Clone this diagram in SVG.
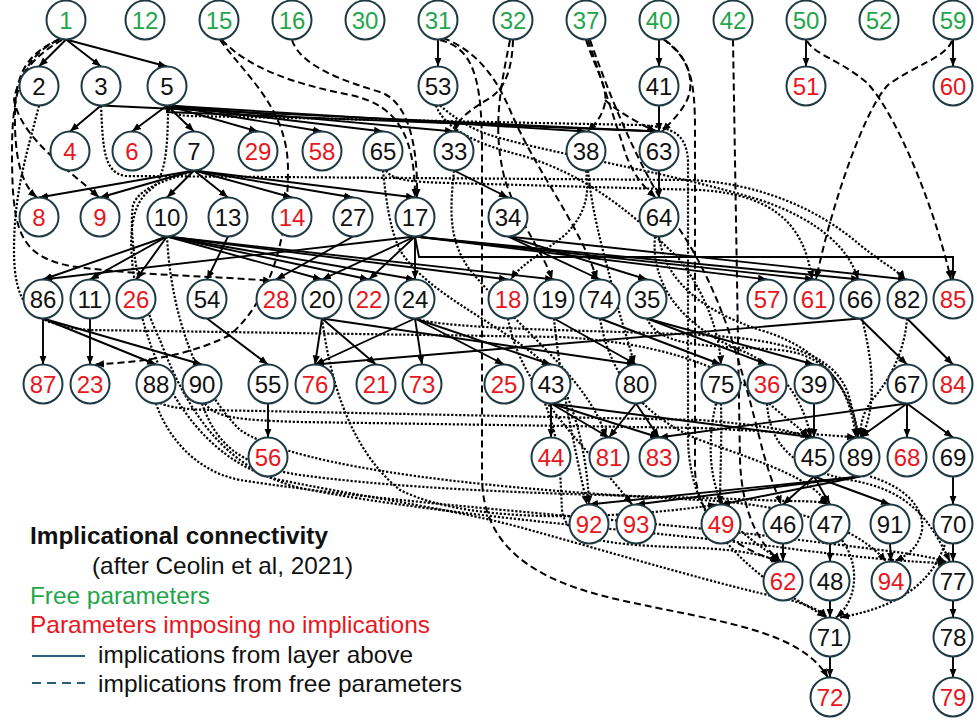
<svg xmlns="http://www.w3.org/2000/svg" width="977" height="721" viewBox="0 0 977 721">
<style>
.s{fill:none;stroke:#000;stroke-width:1.9;marker-end:url(#a)}
.d{fill:none;stroke:#000;stroke-width:2;stroke-dasharray:7 4;marker-end:url(#a)}
.o{fill:none;stroke:#000;stroke-width:2.2;stroke-dasharray:2.2 1.8;marker-end:url(#a)}
circle{fill:#fff;stroke:#1e3a42;stroke-width:2}
text{font-family:"Liberation Sans",Arial,sans-serif}
.n text{font-size:24px;text-anchor:middle}
.g{fill:#1fa64a}
.r{fill:#e8161d}
.k{fill:#111}
</style>
<defs>
<marker id="a" viewBox="0 0 10 10" refX="10" refY="5" markerWidth="9" markerHeight="9" markerUnits="userSpaceOnUse" orient="auto"><path d="M0,1 L10,5 L0,9 z" fill="#000"/></marker>
</defs>
<rect width="977" height="721" fill="#fff"/>
<g id="connectors">
<g id="dotted">
<path class="o" d="M39,105.5 C28,150 14,190 14,250 C14,305 30,325 90,330 L560,337 C650,342 720,362 765,400 C790,422 803,430 808,437.5"/>
<path class="o" d="M101,105.5 C103,150 104,172 125,176 L690,180 C760,183 820,210 860,245 C885,265 900,272 905,279.5"/>
<path class="o" d="M167,105.5 C168,112 175,115 190,116 L640,125 C675,127 686,135 688,160 L688,440 C690,520 740,560 780,590 C805,605 818,612 826,617.5"/>
<path class="o" d="M194,170.5 C170,180 140,186 133,205 C128,240 140,300 160,340 C190,420 230,470 300,488 C450,518 700,535 800,550 C880,560 930,563 947,563"/>
<path class="o" d="M168,105.5 C168,150 165,180 150,190 C130,205 126,240 138,300 C155,380 200,460 280,480 C380,500 460,510 530,530 C620,555 720,585 790,600 C812,606 822,612 827,617.5"/>
<path class="o" d="M383,170.5 C386,200 390,230 400,250 C430,300 520,330 560,380 C580,420 588,470 589,504.5"/>
<path class="o" d="M454,170.5 C450,210 448,240 470,270 C520,330 590,380 606,437.5"/>
<path class="o" d="M586,170.5 C590,195 585,215 565,235 C540,255 520,265 511,279.5"/>
<path class="o" d="M440,105.5 C455,118 470,130 500,138 C560,155 680,175 760,200 C820,220 850,250 858,279.5"/>
<path class="o" d="M156,403.5 C165,430 190,470 240,480 C400,505 650,520 800,540 C880,550 930,555 946,562"/>
<path class="o" d="M202,403.5 C215,440 235,465 300,475 C450,495 650,495 760,500 C800,502 820,500 828,504.5"/>
<path class="o" d="M160,403 C175,410 200,410 260,411 L700,420 C760,425 790,430 810,437.5"/>
<path class="o" d="M205,403.5 C215,418 240,420 300,422 L700,428 C780,432 830,435 856,437.5"/>
<path class="o" d="M167,236.5 C170,300 190,380 240,430 C300,470 500,490 700,500 C800,505 860,530 886,561.5"/>
<path class="o" d="M322,318.5 C330,380 350,450 400,490 C480,530 650,515 717,504.5"/>
<path class="o" d="M659,236.5 C665,280 700,310 760,330 C830,350 855,400 858,437.5"/>
<path class="o" d="M655,236.5 C650,290 690,330 740,350 C790,370 805,410 811,437.5"/>
<path class="o" d="M554,318.5 C560,380 575,450 587,504.5"/>
<path class="o" d="M600,318.5 C610,380 650,420 700,440 C770,465 815,480 827,504.5"/>
<path class="o" d="M647,318.5 C660,350 720,345 780,350 C830,355 850,390 856,437.5"/>
<path class="o" d="M508,318.5 C520,390 590,450 632,504.5"/>
<path class="o" d="M721,403.5 C722,440 720,480 720,504.5"/>
<path class="o" d="M716,403.5 C705,450 710,500 740,530 C760,548 775,555 780,561.5"/>
<path class="o" d="M767,403.5 C770,450 800,470 850,480 C910,490 930,520 950,561.5"/>
<path class="o" d="M862,318.5 C872,360 878,400 862,437.5"/>
<path class="o" d="M907,318.5 C905,350 890,380 872,400 C862,415 860,425 861,437.5"/>
<path class="o" d="M415,318.5 C450,330 600,330 700,335 C800,340 840,360 850,400 C855,420 857,430 858,437.5"/>
<path class="o" d="M946,541 C935,575 910,605 840,617.5"/>
<path class="o" d="M842,540 C860,565 858,600 836,617.5"/>
<path class="o" d="M436,105.5 C445,130 480,145 520,155 C590,175 640,220 680,260 C710,300 720,340 721,364.5"/>
<path class="o" d="M545,403.5 C560,440 560,470 562,510 C566,540 600,545 700,548 C740,550 765,555 779,561.5"/>
<path class="o" d="M588,170.5 C592,210 600,240 612,285 C622,325 630,345 634,364.5"/>
<path class="o" d="M386,170.5 C392,180 410,182 450,183 L700,190 C780,195 805,230 812,279.5"/>
<path class="o" d="M870,476.5 C900,485 925,505 922,530 C918,550 905,556 895,561.5"/>
</g>
<g id="dashed">
<path class="d" d="M60,39 C30,52 16,70 15,110 C14,160 22,185 37,197.5"/>
<path class="d" d="M62,40 C35,55 18,75 14,100 C22,140 70,170 99,197.5"/>
<path class="d" d="M58,40 C28,55 12,80 12,150 C12,230 18,255 70,266 C140,276 220,276 272,281"/>
<path class="d" d="M222,40 C250,70 300,85 350,95 C400,105 415,140 415,197.5"/>
<path class="d" d="M292,40 C300,65 340,80 380,92 C410,102 418,150 417,197.5"/>
<path class="d" d="M220,40 C250,80 288,110 288,170 C288,240 270,300 230,335 C180,360 130,362 95,364.5"/>
<path class="d" d="M443,38 C475,50 495,75 510,110 C535,170 580,225 597,279.5"/>
<path class="d" d="M440,40 C472,48 482,75 482,150 L482,480 C484,545 530,580 620,600 C720,622 800,630 828,677.5"/>
<path class="d" d="M513,40 C512,70 505,88 490,98 C470,110 458,118 455,131.5"/>
<path class="d" d="M510,40 C500,90 492,130 505,180 C520,225 545,255 552,279.5"/>
<path class="d" d="M586,40 C596,70 608,88 605,103 C602,118 594,124 588,131.5"/>
<path class="d" d="M605,100 C618,112 640,124 656,131.5"/>
<path class="d" d="M588,40 C605,90 618,130 626,155 C635,178 645,188 656,197.5"/>
<path class="d" d="M590,40 C615,110 640,170 680,230 C720,290 740,360 760,440 C770,480 778,495 781,504.5"/>
<path class="d" d="M663,39 C685,55 692,72 690,90 C688,105 675,118 662,131.5"/>
<path class="d" d="M665,40 C690,58 695,80 695,130 L695,470 C697,525 740,550 780,561.5"/>
<path class="d" d="M733,39.5 L740,460 C742,515 760,545 781,561.5"/>
<path class="d" d="M807,41 C815,55 840,60 866,82 C890,105 930,190 951,279.5"/>
<path class="d" d="M952,41 C945,58 915,65 888,85 C868,105 835,190 816,279.5"/>
</g>
<g id="solid">
<path class="s" d="M66,39.5 L39,66.5"/>
<path class="s" d="M66,39.5 L101,66.5"/>
<path class="s" d="M66,39.5 L167,66.5"/>
<path class="s" d="M438,39.5 L438,66.5"/>
<path class="s" d="M659,39.5 L659,66.5"/>
<path class="s" d="M806,39.5 L806,66.5"/>
<path class="s" d="M953,39.5 L953,66.5"/>
<path class="s" d="M659,105.5 L659,131.5"/>
<path class="s" d="M101,105.5 L70,131.5"/>
<path class="s" d="M167,105.5 L132,131.5"/>
<path class="s" d="M167,105.5 L194,131.5"/>
<path class="s" d="M167,105.5 L258,131.5"/>
<path class="s" d="M167,105.5 L322,131.5"/>
<path class="s" d="M167,105.5 L383,131.5"/>
<path class="s" d="M167,105.5 L454,131.5"/>
<path class="s" d="M167,105.5 L586,131.5"/>
<path class="s" d="M101,105.5 L659,131.5"/>
<path class="s" d="M167,105.5 L167,112 L659,131.5"/>
<path class="s" d="M194,170.5 L39,197.5"/>
<path class="s" d="M194,170.5 L100,197.5"/>
<path class="s" d="M194,170.5 L167,197.5"/>
<path class="s" d="M194,170.5 L228,197.5"/>
<path class="s" d="M194,170.5 L292,197.5"/>
<path class="s" d="M194,170.5 L353,197.5"/>
<path class="s" d="M194,170.5 L415,197.5"/>
<path class="s" d="M454,170.5 L508,197.5"/>
<path class="s" d="M659,170.5 L659,197.5"/>
<path class="s" d="M167,236.5 L43,279.5"/>
<path class="s" d="M167,236.5 L90,279.5"/>
<path class="s" d="M167,236.5 L136,279.5"/>
<path class="s" d="M167,236.5 L322,279.5"/>
<path class="s" d="M167,236.5 L369,279.5"/>
<path class="s" d="M167,236.5 L415,279.5"/>
<path class="s" d="M167,236.5 L508,279.5"/>
<path class="s" d="M167,236.5 L554,279.5"/>
<path class="s" d="M228,236.5 L207,279.5"/>
<path class="s" d="M353,236.5 L276,279.5"/>
<path class="s" d="M415,236.5 L43,279.5"/>
<path class="s" d="M415,236.5 L322,279.5"/>
<path class="s" d="M415,236.5 L369,279.5"/>
<path class="s" d="M415,236.5 L415,279.5"/>
<path class="s" d="M415,236.5 L767,279.5"/>
<path class="s" d="M415,236.5 L814,279.5"/>
<path class="s" d="M415,236.5 L860,279.5"/>
<path class="s" d="M415,236.5 L419,257 L953,257 L953,279.5"/>
<path class="s" d="M508,236.5 L600,279.5"/>
<path class="s" d="M508,236.5 L647,279.5"/>
<path class="s" d="M508,236.5 L907,279.5"/>
<path class="s" d="M43,318.5 L43,364.5"/>
<path class="s" d="M43,318.5 L156,364.5"/>
<path class="s" d="M43,318.5 L202,364.5"/>
<path class="s" d="M90,318.5 L90,364.5"/>
<path class="s" d="M207,318.5 L268,364.5"/>
<path class="s" d="M322,318.5 L315,364.5"/>
<path class="s" d="M322,318.5 L376,364.5"/>
<path class="s" d="M322,318.5 L636,364.5"/>
<path class="s" d="M415,318.5 L315,364.5"/>
<path class="s" d="M415,318.5 L422,364.5"/>
<path class="s" d="M415,318.5 L504,364.5"/>
<path class="s" d="M415,318.5 L551,364.5"/>
<path class="s" d="M554,318.5 L636,364.5"/>
<path class="s" d="M600,318.5 L721,364.5"/>
<path class="s" d="M647,318.5 L767,364.5"/>
<path class="s" d="M647,318.5 L814,364.5"/>
<path class="s" d="M860,318.5 L907,364.5"/>
<path class="s" d="M860,318.5 L315,364.5"/>
<path class="s" d="M907,318.5 L953,364.5"/>
<path class="s" d="M268,403.5 L268,437.5"/>
<path class="s" d="M551,403.5 L551,437.5"/>
<path class="s" d="M551,403.5 L609,437.5"/>
<path class="s" d="M551,403.5 L659,437.5"/>
<path class="s" d="M636,403.5 L609,437.5"/>
<path class="s" d="M636,403.5 L659,437.5"/>
<path class="s" d="M814,403.5 L814,437.5"/>
<path class="s" d="M907,403.5 L860,437.5"/>
<path class="s" d="M907,403.5 L907,437.5"/>
<path class="s" d="M907,403.5 L953,437.5"/>
<path class="s" d="M907,403.5 L659,437.5"/>
<path class="s" d="M551,403.5 L814,437.5"/>
<path class="s" d="M814,476.5 L783,504.5"/>
<path class="s" d="M814,476.5 L830,504.5"/>
<path class="s" d="M814,476.5 L890,504.5"/>
<path class="s" d="M860,476.5 L589,504.5"/>
<path class="s" d="M860,476.5 L636,504.5"/>
<path class="s" d="M860,476.5 L721,504.5"/>
<path class="s" d="M953,476.5 L953,504.5"/>
<path class="s" d="M783,543.5 L783,561.5"/>
<path class="s" d="M830,543.5 L830,561.5"/>
<path class="s" d="M890,543.5 L891,561.5"/>
<path class="s" d="M953,543.5 L953,561.5"/>
<path class="s" d="M830,600.5 L830,617.5"/>
<path class="s" d="M953,600.5 L953,617.5"/>
<path class="s" d="M830,656.5 L830,677.5"/>
<path class="s" d="M953,656.5 L953,677.5"/>
</g>
</g>
<g id="nodes" class="n">
<g id="n1"><circle cx="66" cy="20" r="19.5"/><text x="66" y="28.5" class="g">1</text></g>
<g id="n12"><circle cx="145" cy="20" r="19.5"/><text x="145" y="28.5" class="g">12</text></g>
<g id="n15"><circle cx="219" cy="20" r="19.5"/><text x="219" y="28.5" class="g">15</text></g>
<g id="n16"><circle cx="292" cy="20" r="19.5"/><text x="292" y="28.5" class="g">16</text></g>
<g id="n30"><circle cx="365" cy="20" r="19.5"/><text x="365" y="28.5" class="g">30</text></g>
<g id="n31"><circle cx="438" cy="20" r="19.5"/><text x="438" y="28.5" class="g">31</text></g>
<g id="n32"><circle cx="513" cy="20" r="19.5"/><text x="513" y="28.5" class="g">32</text></g>
<g id="n37"><circle cx="586" cy="20" r="19.5"/><text x="586" y="28.5" class="g">37</text></g>
<g id="n40"><circle cx="659" cy="20" r="19.5"/><text x="659" y="28.5" class="g">40</text></g>
<g id="n42"><circle cx="733" cy="20" r="19.5"/><text x="733" y="28.5" class="g">42</text></g>
<g id="n50"><circle cx="806" cy="20" r="19.5"/><text x="806" y="28.5" class="g">50</text></g>
<g id="n52"><circle cx="879" cy="20" r="19.5"/><text x="879" y="28.5" class="g">52</text></g>
<g id="n59"><circle cx="953" cy="20" r="19.5"/><text x="953" y="28.5" class="g">59</text></g>
<g id="n2"><circle cx="39" cy="86" r="19.5"/><text x="39" y="94.5" class="k">2</text></g>
<g id="n3"><circle cx="101" cy="86" r="19.5"/><text x="101" y="94.5" class="k">3</text></g>
<g id="n5"><circle cx="167" cy="86" r="19.5"/><text x="167" y="94.5" class="k">5</text></g>
<g id="n53"><circle cx="438" cy="86" r="19.5"/><text x="438" y="94.5" class="k">53</text></g>
<g id="n41"><circle cx="659" cy="86" r="19.5"/><text x="659" y="94.5" class="k">41</text></g>
<g id="n51"><circle cx="806" cy="86" r="19.5"/><text x="806" y="94.5" class="r">51</text></g>
<g id="n60"><circle cx="953" cy="86" r="19.5"/><text x="953" y="94.5" class="r">60</text></g>
<g id="n4"><circle cx="70" cy="151" r="19.5"/><text x="70" y="159.5" class="r">4</text></g>
<g id="n6"><circle cx="132" cy="151" r="19.5"/><text x="132" y="159.5" class="r">6</text></g>
<g id="n7"><circle cx="194" cy="151" r="19.5"/><text x="194" y="159.5" class="k">7</text></g>
<g id="n29"><circle cx="258" cy="151" r="19.5"/><text x="258" y="159.5" class="r">29</text></g>
<g id="n58"><circle cx="322" cy="151" r="19.5"/><text x="322" y="159.5" class="r">58</text></g>
<g id="n65"><circle cx="383" cy="151" r="19.5"/><text x="383" y="159.5" class="k">65</text></g>
<g id="n33"><circle cx="454" cy="151" r="19.5"/><text x="454" y="159.5" class="k">33</text></g>
<g id="n38"><circle cx="586" cy="151" r="19.5"/><text x="586" y="159.5" class="k">38</text></g>
<g id="n63"><circle cx="659" cy="151" r="19.5"/><text x="659" y="159.5" class="k">63</text></g>
<g id="n8"><circle cx="39" cy="217" r="19.5"/><text x="39" y="225.5" class="r">8</text></g>
<g id="n9"><circle cx="100" cy="217" r="19.5"/><text x="100" y="225.5" class="r">9</text></g>
<g id="n10"><circle cx="167" cy="217" r="19.5"/><text x="167" y="225.5" class="k">10</text></g>
<g id="n13"><circle cx="228" cy="217" r="19.5"/><text x="228" y="225.5" class="k">13</text></g>
<g id="n14"><circle cx="292" cy="217" r="19.5"/><text x="292" y="225.5" class="r">14</text></g>
<g id="n27"><circle cx="353" cy="217" r="19.5"/><text x="353" y="225.5" class="k">27</text></g>
<g id="n17"><circle cx="415" cy="217" r="19.5"/><text x="415" y="225.5" class="k">17</text></g>
<g id="n34"><circle cx="508" cy="217" r="19.5"/><text x="508" y="225.5" class="k">34</text></g>
<g id="n64"><circle cx="659" cy="217" r="19.5"/><text x="659" y="225.5" class="k">64</text></g>
<g id="n86"><circle cx="43" cy="299" r="19.5"/><text x="43" y="307.5" class="k">86</text></g>
<g id="n11"><circle cx="90" cy="299" r="19.5"/><text x="90" y="307.5" class="k">11</text></g>
<g id="n26"><circle cx="136" cy="299" r="19.5"/><text x="136" y="307.5" class="r">26</text></g>
<g id="n54"><circle cx="207" cy="299" r="19.5"/><text x="207" y="307.5" class="k">54</text></g>
<g id="n28"><circle cx="276" cy="299" r="19.5"/><text x="276" y="307.5" class="r">28</text></g>
<g id="n20"><circle cx="322" cy="299" r="19.5"/><text x="322" y="307.5" class="k">20</text></g>
<g id="n22"><circle cx="369" cy="299" r="19.5"/><text x="369" y="307.5" class="r">22</text></g>
<g id="n24"><circle cx="415" cy="299" r="19.5"/><text x="415" y="307.5" class="k">24</text></g>
<g id="n18"><circle cx="508" cy="299" r="19.5"/><text x="508" y="307.5" class="r">18</text></g>
<g id="n19"><circle cx="554" cy="299" r="19.5"/><text x="554" y="307.5" class="k">19</text></g>
<g id="n74"><circle cx="600" cy="299" r="19.5"/><text x="600" y="307.5" class="k">74</text></g>
<g id="n35"><circle cx="647" cy="299" r="19.5"/><text x="647" y="307.5" class="k">35</text></g>
<g id="n57"><circle cx="767" cy="299" r="19.5"/><text x="767" y="307.5" class="r">57</text></g>
<g id="n61"><circle cx="814" cy="299" r="19.5"/><text x="814" y="307.5" class="r">61</text></g>
<g id="n66"><circle cx="860" cy="299" r="19.5"/><text x="860" y="307.5" class="k">66</text></g>
<g id="n82"><circle cx="907" cy="299" r="19.5"/><text x="907" y="307.5" class="k">82</text></g>
<g id="n85"><circle cx="953" cy="299" r="19.5"/><text x="953" y="307.5" class="r">85</text></g>
<g id="n87"><circle cx="43" cy="384" r="19.5"/><text x="43" y="392.5" class="r">87</text></g>
<g id="n23"><circle cx="90" cy="384" r="19.5"/><text x="90" y="392.5" class="r">23</text></g>
<g id="n88"><circle cx="156" cy="384" r="19.5"/><text x="156" y="392.5" class="k">88</text></g>
<g id="n90"><circle cx="202" cy="384" r="19.5"/><text x="202" y="392.5" class="k">90</text></g>
<g id="n55"><circle cx="268" cy="384" r="19.5"/><text x="268" y="392.5" class="k">55</text></g>
<g id="n76"><circle cx="315" cy="384" r="19.5"/><text x="315" y="392.5" class="r">76</text></g>
<g id="n21"><circle cx="376" cy="384" r="19.5"/><text x="376" y="392.5" class="r">21</text></g>
<g id="n73"><circle cx="422" cy="384" r="19.5"/><text x="422" y="392.5" class="r">73</text></g>
<g id="n25"><circle cx="504" cy="384" r="19.5"/><text x="504" y="392.5" class="r">25</text></g>
<g id="n43"><circle cx="551" cy="384" r="19.5"/><text x="551" y="392.5" class="k">43</text></g>
<g id="n80"><circle cx="636" cy="384" r="19.5"/><text x="636" y="392.5" class="k">80</text></g>
<g id="n75"><circle cx="721" cy="384" r="19.5"/><text x="721" y="392.5" class="k">75</text></g>
<g id="n36"><circle cx="767" cy="384" r="19.5"/><text x="767" y="392.5" class="r">36</text></g>
<g id="n39"><circle cx="814" cy="384" r="19.5"/><text x="814" y="392.5" class="k">39</text></g>
<g id="n67"><circle cx="907" cy="384" r="19.5"/><text x="907" y="392.5" class="k">67</text></g>
<g id="n84"><circle cx="953" cy="384" r="19.5"/><text x="953" y="392.5" class="r">84</text></g>
<g id="n56"><circle cx="268" cy="457" r="19.5"/><text x="268" y="465.5" class="r">56</text></g>
<g id="n44"><circle cx="551" cy="457" r="19.5"/><text x="551" y="465.5" class="r">44</text></g>
<g id="n81"><circle cx="609" cy="457" r="19.5"/><text x="609" y="465.5" class="r">81</text></g>
<g id="n83"><circle cx="659" cy="457" r="19.5"/><text x="659" y="465.5" class="r">83</text></g>
<g id="n45"><circle cx="814" cy="457" r="19.5"/><text x="814" y="465.5" class="k">45</text></g>
<g id="n89"><circle cx="860" cy="457" r="19.5"/><text x="860" y="465.5" class="k">89</text></g>
<g id="n68"><circle cx="907" cy="457" r="19.5"/><text x="907" y="465.5" class="r">68</text></g>
<g id="n69"><circle cx="953" cy="457" r="19.5"/><text x="953" y="465.5" class="k">69</text></g>
<g id="n92"><circle cx="589" cy="524" r="19.5"/><text x="589" y="532.5" class="r">92</text></g>
<g id="n93"><circle cx="636" cy="524" r="19.5"/><text x="636" y="532.5" class="r">93</text></g>
<g id="n49"><circle cx="721" cy="524" r="19.5"/><text x="721" y="532.5" class="r">49</text></g>
<g id="n46"><circle cx="783" cy="524" r="19.5"/><text x="783" y="532.5" class="k">46</text></g>
<g id="n47"><circle cx="830" cy="524" r="19.5"/><text x="830" y="532.5" class="k">47</text></g>
<g id="n91"><circle cx="890" cy="524" r="19.5"/><text x="890" y="532.5" class="k">91</text></g>
<g id="n70"><circle cx="953" cy="524" r="19.5"/><text x="953" y="532.5" class="k">70</text></g>
<g id="n62"><circle cx="783" cy="581" r="19.5"/><text x="783" y="589.5" class="r">62</text></g>
<g id="n48"><circle cx="830" cy="581" r="19.5"/><text x="830" y="589.5" class="k">48</text></g>
<g id="n94"><circle cx="891" cy="581" r="19.5"/><text x="891" y="589.5" class="r">94</text></g>
<g id="n77"><circle cx="953" cy="581" r="19.5"/><text x="953" y="589.5" class="k">77</text></g>
<g id="n71"><circle cx="830" cy="637" r="19.5"/><text x="830" y="645.5" class="k">71</text></g>
<g id="n78"><circle cx="953" cy="637" r="19.5"/><text x="953" y="645.5" class="k">78</text></g>
<g id="n72"><circle cx="830" cy="697" r="19.5"/><text x="830" y="705.5" class="r">72</text></g>
<g id="n79"><circle cx="953" cy="697" r="19.5"/><text x="953" y="705.5" class="r">79</text></g>
</g>
<g id="legend">
<text x="30" y="544" font-weight="bold" font-size="24" fill="#111" textLength="298" lengthAdjust="spacingAndGlyphs">Implicational connectivity</text>
<text x="92" y="574" font-size="24" fill="#111" textLength="261" lengthAdjust="spacingAndGlyphs">(after Ceolin et al, 2021)</text>
<text x="30" y="604" font-size="24" class="g" textLength="180" lengthAdjust="spacingAndGlyphs">Free parameters</text>
<text x="30" y="633" font-size="24" class="r" textLength="400" lengthAdjust="spacingAndGlyphs">Parameters imposing no implications</text>
<line x1="32" y1="656" x2="85" y2="656" stroke="#2a5d7c" stroke-width="2"/>
<text x="98" y="663" font-size="24" fill="#111" textLength="315" lengthAdjust="spacingAndGlyphs">implications from layer above</text>
<line x1="32" y1="683" x2="85" y2="683" stroke="#2a5d7c" stroke-width="2" stroke-dasharray="9 6"/>
<text x="98" y="692" font-size="24" fill="#111" textLength="364" lengthAdjust="spacingAndGlyphs">implications from free parameters</text>
</g>
</svg>
